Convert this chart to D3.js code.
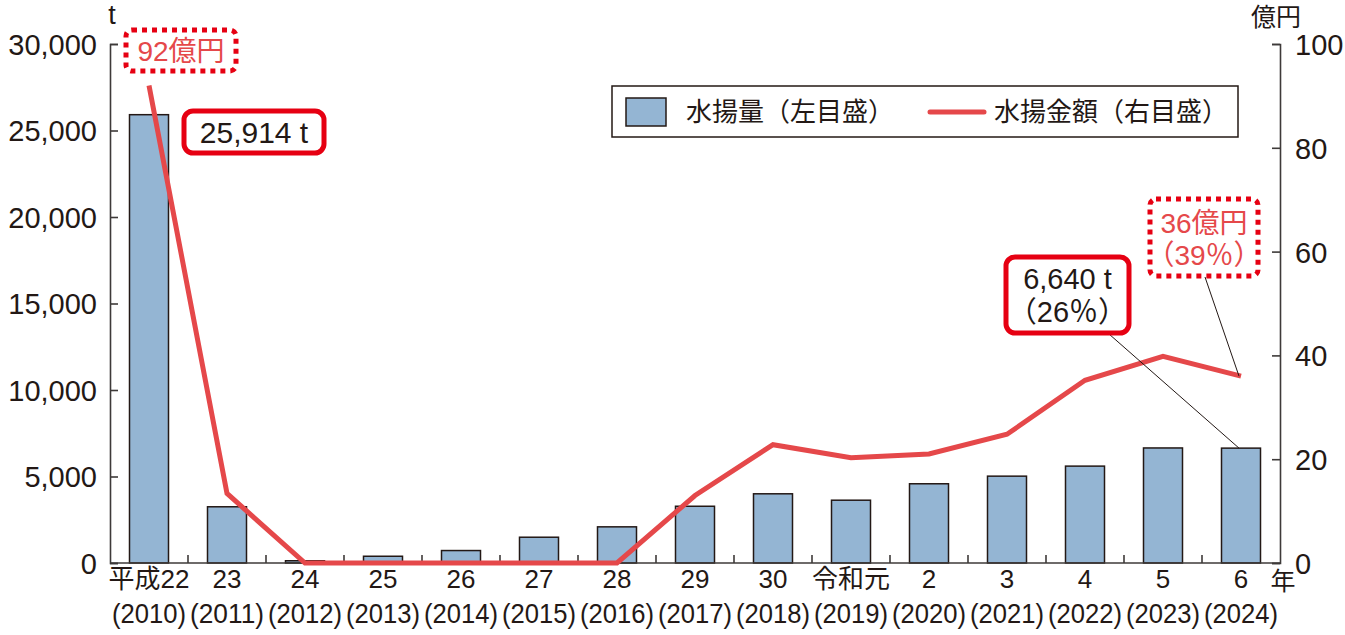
<!DOCTYPE html>
<html>
<head>
<meta charset="utf-8">
<title>水揚量と水揚金額</title>
<style>
	body { margin: 0; background: #fff; }
	#chart { width: 1345px; height: 635px; display: block; }
	.lbl { font-family: "Liberation Sans", "Noto Sans CJK JP", sans-serif; fill: #231815; }
	.axis path, .axis line { stroke: #3e3a39; stroke-width: 1.6px; }
	.axis text { font-family: "Liberation Sans", "Noto Sans CJK JP", sans-serif; font-size: 29px; fill: #231815; }
</style>
</head>
<body>
<svg id="chart"></svg>
<script src="https://cdn.jsdelivr.net/npm/d3@7"></script>
<script>

// data
var eraLabels = ['平成22', '23', '24', '25', '26', '27', '28', '29', '30', '令和元', '2', '3', '4', '5', '6'];
var yearLabels = ['(2010)', '(2011)', '(2012)', '(2013)', '(2014)', '(2015)', '(2016)', '(2017)', '(2018)', '(2019)', '(2020)', '(2021)', '(2022)', '(2023)', '(2024)'];
var catchTons = [25914, 3250, 130, 390, 720, 1490, 2090, 3280, 4000, 3630, 4580, 5020, 5600, 6650, 6640];
var catchValue = [92, 13.4, 0, 0, 0, 0, 0, 13, 22.8, 20.3, 21, 24.8, 35.2, 39.8, 36];
var leftTicks = [0, 5000, 10000, 15000, 20000, 25000, 30000];
var rightTicks = [0, 20, 40, 60, 80, 100];

var barColor = '#94b5d3',
	lineColor = '#e5484a',
	noteRed = '#e60012';

var svg = d3.select('#chart');

var plotLeft = 110, plotRight = 1280, plotTop = 44, plotBottom = 563;

var x = d3.scaleBand()
	.domain(yearLabels)
	.range([plotLeft, plotRight])
	.paddingInner(0)
	.paddingOuter(0);

var yL = d3.scaleLinear().domain([0, 30000]).range([plotBottom, plotTop]);
var yR = d3.scaleLinear().domain([0, 100]).range([plotBottom, plotTop]);

var barW = x.bandwidth() * 0.5;

// bars
svg.append('g')
	.selectAll('rect')
	.data(catchTons)
	.enter()
	.append('rect')
	.attr('x', function(d, i) { return x(yearLabels[i]) + (x.bandwidth() - barW) / 2; })
	.attr('y', function(d) { return yL(d); })
	.attr('width', barW)
	.attr('height', function(d) { return plotBottom - yL(d); })
	.attr('fill', barColor)
	.attr('stroke', '#231815')
	.attr('stroke-width', 1.5);

// left axis
svg.append('g')
	.attr('class', 'axis')
	.attr('transform', 'translate(' + plotLeft + ',0)')
	.call(d3.axisRight(yL).tickValues(leftTicks).tickSize(8).tickFormat(d3.format(',')))
	.call(function(g) {
		g.selectAll('text').attr('x', -13).attr('text-anchor', 'end').attr('dy', '0.36em');
	});

// right axis
svg.append('g')
	.attr('class', 'axis')
	.attr('transform', 'translate(' + plotRight + ',0)')
	.call(d3.axisLeft(yR).tickValues(rightTicks).tickSize(8))
	.call(function(g) {
		g.selectAll('text').attr('x', 15).attr('text-anchor', 'start').attr('dy', '0.36em');
	});

// bottom axis line + category boundary ticks (pointing up)
var xAxis = svg.append('g').attr('class', 'axis');
xAxis.append('line')
	.attr('x1', plotLeft).attr('x2', plotRight)
	.attr('y1', plotBottom).attr('y2', plotBottom);
xAxis.selectAll('.sep')
	.data(yearLabels.slice(1))
	.enter()
	.append('line')
	.attr('x1', function(d) { return x(d); })
	.attr('x2', function(d) { return x(d); })
	.attr('y1', plotBottom)
	.attr('y2', plotBottom - 8);

// x labels
svg.append('g')
	.selectAll('text')
	.data(eraLabels)
	.enter()
	.append('text')
	.attr('class', 'lbl')
	.attr('x', function(d, i) { return x(yearLabels[i]) + x.bandwidth() / 2; })
	.attr('y', 588)
	.attr('text-anchor', 'middle')
	.style('font-size', '26px')
	.text(function(d) { return d; });

svg.append('g')
	.selectAll('text')
	.data(yearLabels)
	.enter()
	.append('text')
	.attr('class', 'lbl')
	.attr('x', function(d) { return x(d) + x.bandwidth() / 2; })
	.attr('y', 623)
	.attr('text-anchor', 'middle')
	.style('font-size', '27px')
	.attr('textLength', 74)
	.attr('lengthAdjust', 'spacingAndGlyphs')
	.text(function(d) { return d; });

// unit labels
svg.append('text').attr('class', 'lbl').attr('x', 112).attr('y', 24)
	.attr('text-anchor', 'middle').style('font-size', '27px').text('t');
svg.append('text').attr('class', 'lbl').attr('x', 1276).attr('y', 26)
	.attr('text-anchor', 'middle').style('font-size', '25px').text('億円');
svg.append('text').attr('class', 'lbl').attr('x', 1283).attr('y', 590)
	.attr('text-anchor', 'middle').style('font-size', '25px').text('年');

// value line
var line = d3.line()
	.x(function(d, i) { return x(yearLabels[i]) + x.bandwidth() / 2; })
	.y(function(d) { return yR(d); });

svg.append('path')
	.datum(catchValue)
	.attr('d', line)
	.attr('fill', 'none')
	.attr('stroke', lineColor)
	.attr('stroke-width', 5)
	.attr('stroke-linejoin', 'miter');

// legend
var legend = svg.append('g');
legend.append('rect')
	.attr('x', 612).attr('y', 86).attr('width', 626).attr('height', 51)
	.attr('fill', '#fff').attr('stroke', '#231815').attr('stroke-width', 1.5);
legend.append('rect')
	.attr('x', 626).attr('y', 98).attr('width', 40).attr('height', 28)
	.attr('fill', barColor).attr('stroke', '#231815').attr('stroke-width', 1.5);
legend.append('text').attr('class', 'lbl')
	.attr('x', 686).attr('y', 121).style('font-size', '26px').text('水揚量（左目盛）');
legend.append('line')
	.attr('x1', 930).attr('x2', 984).attr('y1', 112).attr('y2', 112)
	.attr('stroke', lineColor).attr('stroke-width', 5).attr('stroke-linecap', 'round');
legend.append('text').attr('class', 'lbl')
	.attr('x', 994).attr('y', 121).style('font-size', '26px').text('水揚金額（右目盛）');

// annotations
var last = yearLabels.length - 1;
var lastX = x(yearLabels[last]) + x.bandwidth() / 2;

// leader lines
svg.append('line')
	.attr('x1', 1109).attr('y1', 334)
	.attr('x2', lastX - 2).attr('y2', yL(catchTons[last]))
	.attr('stroke', '#231815').attr('stroke-width', 1);
svg.append('line')
	.attr('x1', 1205).attr('y1', 277)
	.attr('x2', lastX - 2).attr('y2', yR(catchValue[last]))
	.attr('stroke', '#231815').attr('stroke-width', 1);

function note(bx, by, bw, bh, lines, dotted, color, size, y0, lh) {
	var g = svg.append('g');
	g.append('rect')
		.attr('x', bx).attr('y', by).attr('width', bw).attr('height', bh)
		.attr('rx', dotted ? 6 : 9)
		.attr('fill', '#fff')
		.attr('stroke', noteRed)
		.attr('stroke-width', 5)
		.attr('stroke-dasharray', dotted ? '5 5' : null);
	lines.forEach(function(t, i) {
		g.append('text').attr('class', 'lbl')
			.attr('x', bx + bw / 2)
			.attr('y', y0 + i * lh)
			.attr('text-anchor', 'middle')
			.style('font-size', size + 'px')
			.style('fill', color)
			.text(t);
	});
}

note(126, 30, 110, 41, ['92億円'], true, lineColor, 28, 61, 0);
note(184, 111, 140, 42, ['25,914 t'], false, '#231815', 30, 143, 0);
note(1006, 257, 123, 76, ['6,640 t', '（26％）'], false, '#231815', 29, 289, 33);
note(1150, 199, 108, 77, ['36億円', '（39％）'], true, lineColor, 28, 233, 32);

</script>
</body>
</html>
